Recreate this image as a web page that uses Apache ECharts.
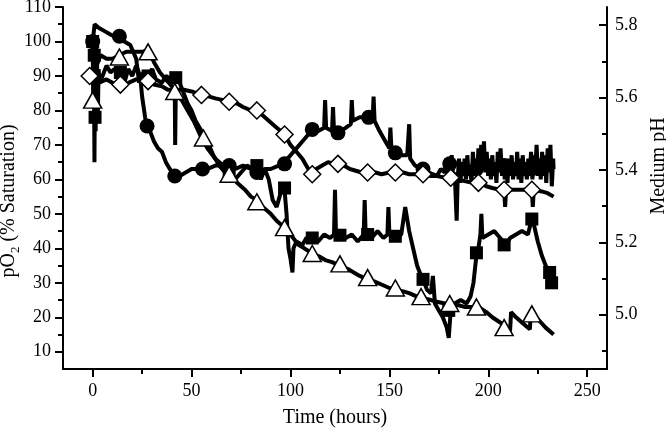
<!DOCTYPE html>
<html>
<head>
<meta charset="utf-8">
<script src="https://cdn.jsdelivr.net/npm/echarts@6/dist/echarts.min.js"></script>
<style>html,body{margin:0;padding:0;background:#fff}#c{width:666px;height:431px}</style>
</head>
<body>
<div id="c"></div>
<script>
// ---- Data (time in hours, value in pO2 % saturation scale) ----
const xTicks = [0, 50, 100, 150, 200, 250];
const xMinorTicks = [25, 75, 125, 175, 225];
const yTicks = [10, 20, 30, 40, 50, 60, 70, 80, 90, 100, 110];
const yMinorTicks = [15, 25, 35, 45, 55, 65, 75, 85, 95, 105];
const phTicks = [5.0, 5.2, 5.4, 5.6, 5.8];
const phMinorTicks = [4.9, 5.1, 5.3, 5.5, 5.7];

const circleLine = [[0,100],[1,105],[3,104],[6,103],[9,102],[13.5,101],[16,100],[19,99],[22,95],[23.5,88],[24,90],[25,84],[26.5,78],[27.5,75.5],[29,74],[31,71],[33,69],[35,68],[37,65],[39,63],[41.5,61],[44,61],[47,62],[50,63],[53,63],[55.5,63],[58,63],[62,64],[66,64],[69,64],[72,63],[76,64],[80,63],[83,62],[87,63],[90,63],[94,64],[97,65],[100,67],[103,69],[106,71],[109,73],[111,74.4],[114,74],[117,75],[117.5,83],[118,75],[121,74],[121.5,81],[122,74],[125,74],[128,75],[130.5,76],[131,83],[131.5,77],[135,78],[139,78],[141.5,77],[142,84],[142.5,77],[145,74],[148,71],[150,69],[150.5,75],[151,69],[153,68],[156,67],[159,67],[160,76],[160.5,66],[163,64],[167,63],[170,62],[174,61],[176,63],[178,62],[178.7,66],[179.4,60],[180.1,65],[180.8,62],[181.5,67],[182.2,61],[183,62],[184,48],[184.5,60],[185.2,66],[185.9,59],[186.6,65],[187.3,61],[188,66],[188.7,60],[189.4,67],[190.1,61],[190.8,64],[191.5,59],[192.2,68],[192.9,62],[193.6,66],[194.3,60],[195,69],[195.7,62],[196.4,70],[197.1,63],[197.8,71],[198.5,62],[199.2,68],[199.9,61],[200.6,66],[201.3,60],[202,67],[202.7,61],[203.4,65],[204.1,59],[204.8,68],[205.5,62],[206.2,69],[206.9,61],[207.6,66],[208.3,60],[209,64],[209.7,59],[210.4,66],[211.1,61],[211.8,67],[212.5,60],[213.2,65],[213.9,61],[214.6,68],[215.3,60],[216,66],[216.7,59],[217.4,67],[218.1,61],[218.8,65],[219.5,60],[220.2,66],[220.9,61],[221.6,68],[222.3,60],[223,67],[223.7,62],[224.4,70],[225.1,61],[225.8,66],[226.5,60],[227.2,68],[227.9,61],[228.6,67],[229.3,59],[230,69],[230.7,62],[231.4,70],[232.1,58],[232.8,66],[233,63]];
const circleMarks = [[0,100],[13.5,101.5],[27.5,75.5],[41.5,61],[55.5,63],[69,64],[83,62],[97,64.5],[111,74.5],[124,73.5],[139.5,78],[153,67.7],[167,63],[180.5,64.5],[194,63],[208,64],[222,63]];

const squareLine = [[0,100],[0.3,82],[0.6,98],[0.9,65],[1.2,96],[1.5,74],[1.8,100],[2.2,94],[2.6,78],[3,92],[3.5,88],[5,90],[7,93],[9,91],[11,92],[13,90],[14,91],[16,88],[18,92],[20,90],[22,93],[24,90],[26,91],[28,90],[30,92],[32,89],[35,88],[37,90],[40,89],[42,89],[44,88],[46,85],[48,82],[50,80],[52,77],[55,74],[58,71],[61,67],[64,64],[67,62],[69,61],[72,60],[75,62],[78,64],[81,63],[83,64],[85,60],[87,63],[89,60],[91,54],[93,52],[95,56],[97,57],[98,50],[99,40],[100,37],[101,33],[101.5,40],[103,42],[106,41],[108,43],[111,43],[114,42],[117,44],[120,43],[122,44],[122.5,57],[123,44],[125,44],[128,43],[131,44],[134,42],[137,44],[137.5,54],[138,44],[141,43],[144,45],[147,43],[149,44],[149.5,52],[150,44],[153,43.5],[156,44],[157,44],[158,52],[160,45],[162,40],[164,35],[166,32],[167,31],[169,28],[171,27],[172,32],[173,24],[175,22],[177,20],[179,17],[180,14],[181,22],[183,24],[186,25],[189,24],[191,26],[192.5,30],[194,38],[195,40],[196,44],[196.5,50],[197,43],[200,44],[203,45],[206,43],[209,41],[211,43],[214,44],[217,45],[220,44],[222,48.5],[223,47],[225,42],[227,38],[229,35],[231,33],[232,30]];
const squareMarks = [[0,100],[0.8,96],[1.2,78],[14,91],[28,90],[42,89.5],[69,62],[83,64],[97,57.5],[111,43],[125,43.8],[139,44],[153,43.5],[167,31],[180,22],[194,38.7],[208,41],[222,48.5],[231,33],[232,30]];

const diamondLine = [[-1.5,90],[0,89],[3,88],[7,89],[10,88],[14,87.5],[18,88],[22,89],[25,89],[28,88.5],[31,87.5],[35,87],[38,86],[42,86],[46,86],[50,85.5],[55,84.5],[59,84],[62,83.5],[66,83],[69,82.5],[73,82],[76,81],[80,80],[83,80],[86,78.5],[89,77],[92,75.5],[95,74],[97,73],[100,70],[103,68],[106,66],[109,63],[111,61.5],[113,63],[116,64],[119,65],[122,64.5],[124,64.5],[127,64],[130,63],[133,62.5],[136,62],[139,62],[143,62],[146,61.5],[150,62],[153,62],[157,62],[160,61.5],[164,61.5],[167,61.5],[171,61],[174,61],[178,60.5],[181,60.5],[185,60],[188,59.5],[192,59],[195,59],[199,58],[202,57.5],[206,57],[208,57],[208.5,52],[209,57],[213,57],[216,57],[220,57],[222,57],[222.5,52],[223,57],[227,56.5],[230,56],[233,55]];
const diamondMarks = [[-1.5,90],[14,87.5],[28,88.5],[55,84.5],[69,82.5],[83,80],[97,73],[111,61.5],[124,64.5],[139,62],[153,62],[167,61.5],[181,60.5],[195,59],[208,57],[222,57]];

const triangleLine = [[0,82],[0.5,86],[1,90],[2,93],[4,96],[7,95],[10,95],[13.5,96],[17,97],[21,97],[25,97],[28,97.5],[31,94],[34,91],[37,89],[40,87],[41.5,86],[41.7,70],[42,85],[45,83],[48,80],[51,77],[55,72],[58,69],[62,66],[66,64],[69,62],[73,59],[77,57],[80,55],[83,54],[86,52],[90,50],[93,48],[97,46],[100,44],[104,41],[107,40],[111,38.5],[115,37.5],[118,36.5],[121,36],[125,35],[129,34],[132,33],[135,32],[139,31],[142,30.5],[146,29.5],[150,28.5],[153,28],[157,27.5],[160,27],[164,26],[167,25.5],[171,25],[174,24.5],[178,24],[181,23.5],[185,23.5],[188,23],[192,23],[195,23],[199,21.5],[202,20],[206,18.5],[209,17.5],[211,16],[211.5,21.5],[214,20],[218,18],[221,16.5],[221.5,21.5],[225,19.5],[229,17],[233,15]];
const triangleMarks = [[0,83],[13.5,95.5],[28,97],[41.5,85.5],[56,72],[69,61.5],[83,53.5],[97,46],[111,38.5],[125,35.5],[139,31.5],[153,28.5],[166,26],[180.5,24],[194,23],[208,17],[222,21]];

// ---- Chart ----
const FONT = 'Liberation Serif';
const black = '#000';
const chart = echarts.init(document.getElementById('c'), null, {renderer: 'canvas'});

function lineSeries(data) {
  return {type: 'line', data: data, xAxisIndex: 0, yAxisIndex: 0, showSymbol: false, symbol: 'none',
    lineStyle: {color: black, width: 4}, z: 2, animation: false, silent: true};
}
const openStyle = {color: '#fff', borderColor: black, borderWidth: 1.5, opacity: 1};
const solidStyle = {color: black, opacity: 1};

const option = {
  animation: false,
  backgroundColor: '#fff',
  grid: {left: 63, right: 59, top: 7, bottom: 62, outerBoundsMode: 'none', containLabel: false},
  xAxis: [
    {type: 'value', min: -15, max: 260, position: 'bottom',
     axisLine: {show: true, onZero: false, lineStyle: {color: black, width: 2}},
     axisTick: {show: true, customValues: xTicks, length: 8, inside: false, lineStyle: {color: black, width: 2}},
     axisLabel: {customValues: xTicks, fontFamily: FONT, fontSize: 18, color: black, margin: 13},
     splitLine: {show: false},
     name: 'Time (hours)', nameLocation: 'middle', nameGap: 39,
     nameTextStyle: {fontFamily: FONT, fontSize: 20, color: black}},
    {type: 'value', min: -15, max: 260, position: 'bottom',
     axisLine: {show: false, onZero: false},
     axisTick: {show: true, customValues: xMinorTicks, length: 5, inside: false, lineStyle: {color: black, width: 2}},
     axisLabel: {show: false}, splitLine: {show: false}}
  ],
  yAxis: [
    {type: 'value', min: 5, max: 110, position: 'left',
     axisLine: {show: true, onZero: false, lineStyle: {color: black, width: 2}},
     axisTick: {show: true, customValues: yTicks, length: 8, inside: false, lineStyle: {color: black, width: 2}},
     axisLabel: {customValues: yTicks, fontFamily: FONT, fontSize: 18, color: black, margin: 12},
     splitLine: {show: false},
     name: '{a|pO}{b|2}{a| (% Saturation)}', nameLocation: 'middle', nameGap: 41, nameRotate: 90,
     nameMoveOverlap: false,
     nameTextStyle: {fontFamily: FONT, color: black, padding: [0, 26, 0, 0],
       rich: {a: {fontFamily: FONT, fontSize: 20, lineHeight: 26, color: black, verticalAlign: 'middle'},
              b: {fontFamily: FONT, fontSize: 13, lineHeight: 12, color: black, verticalAlign: 'bottom'}}}},
    {type: 'value', min: 5, max: 110, position: 'left',
     axisLine: {show: false, onZero: false},
     axisTick: {show: true, customValues: yMinorTicks, length: 5, inside: false, lineStyle: {color: black, width: 2}},
     axisLabel: {show: false}, splitLine: {show: false}},
    {type: 'value', min: 4.85, max: 5.85, position: 'right',
     axisLine: {show: true, onZero: false, lineStyle: {color: black, width: 2}},
     axisTick: {show: true, customValues: phTicks, length: 8, inside: true, lineStyle: {color: black, width: 2}},
     axisLabel: {customValues: phTicks, fontFamily: FONT, fontSize: 18, color: black, margin: 8,
       formatter: v => Number(v).toFixed(1)},
     splitLine: {show: false},
     name: 'Medium pH', nameLocation: 'middle', nameGap: 40, nameRotate: 90,
     nameTextStyle: {fontFamily: FONT, fontSize: 20, color: black, padding: [0, 0, 0, 44]}},
    {type: 'value', min: 4.85, max: 5.85, position: 'right',
     axisLine: {show: false, onZero: false},
     axisTick: {show: true, customValues: phMinorTicks, length: 5, inside: true, lineStyle: {color: black, width: 2}},
     axisLabel: {show: false}, splitLine: {show: false}}
  ],
  series: [
    lineSeries(diamondLine),
    lineSeries(triangleLine),
    lineSeries(squareLine),
    lineSeries(circleLine),
    {type: 'scatter', data: squareMarks, symbol: 'rect', symbolSize: 13, itemStyle: solidStyle, z: 4, silent: true},
    {type: 'scatter', data: circleMarks, symbol: 'circle', symbolSize: 15, itemStyle: solidStyle, z: 4, silent: true},
    {type: 'scatter', data: diamondMarks, symbol: 'diamond', symbolSize: [17, 17], itemStyle: openStyle, z: 5, silent: true},
    {type: 'scatter', data: triangleMarks, symbol: 'triangle', symbolSize: [18, 16], itemStyle: openStyle, z: 6, silent: true}
  ]
};
chart.setOption(option);
</script>
</body>
</html>
